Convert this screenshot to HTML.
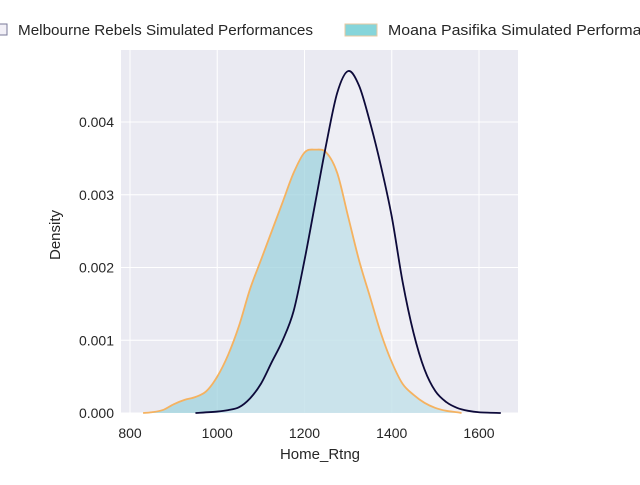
<!DOCTYPE html>
<html><head><meta charset="utf-8"><style>
body{margin:0;background:#fff;width:640px;height:480px;overflow:hidden;font-family:"Liberation Sans",sans-serif}
</style></head><body>
<svg width="640" height="480" xmlns="http://www.w3.org/2000/svg" font-family="Liberation Sans, sans-serif">
<rect x="121" y="50" width="397" height="363" fill="#eaeaf2"/>
<g id="grid"></g>
<g id="series"></g>
<g id="ticks" font-size="14" fill="#262626"></g>
<text x="320" y="459" text-anchor="middle" font-size="15" fill="#262626">Home_Rtng</text>
<text transform="translate(60,235) rotate(-90)" text-anchor="middle" font-size="15" fill="#262626">Density</text>
<g font-size="15" fill="#262626">
<g><rect x="-4" y="24" width="11" height="11" fill="#f2f0f7" stroke="#7a7a9a" stroke-width="1"/><text x="18" y="35" textLength="295" lengthAdjust="spacingAndGlyphs">Melbourne Rebels Simulated Performances</text></g>
<g><rect x="345" y="24" width="32" height="12" fill="#86d5da" stroke="#e8c9a0" stroke-width="1"/><text x="388" y="35" textLength="287" lengthAdjust="spacingAndGlyphs">Moana Pasifika Simulated Performances</text></g>
</g>
</svg>
<script>
const xTicks=[800,1000,1200,1400,1600];
const yTicks=[0,0.001,0.002,0.003,0.004];
const yTickLabels=["0.000","0.001","0.002","0.003","0.004"];
const moanaX=[830,850,875,900,925,950,975,1000,1025,1050,1075,1100,1125,1150,1175,1200,1225,1250,1275,1300,1325,1350,1375,1400,1425,1450,1475,1500,1525,1550,1560];
const moanaY=[0,0.00001,0.00004,0.00012,0.00018,0.00022,0.0003,0.0005,0.0008,0.0012,0.0017,0.0021,0.0025,0.0029,0.0033,0.00358,0.00362,0.00358,0.0033,0.0027,0.0021,0.0016,0.0011,0.0007,0.0004,0.00025,0.00014,0.00007,0.00003,0.00001,0];
const melX=[950,1000,1025,1050,1075,1100,1125,1150,1175,1200,1225,1250,1275,1300,1325,1350,1375,1400,1425,1450,1475,1500,1525,1550,1575,1600,1650];
const melY=[0,0.00002,0.00004,0.00008,0.0002,0.0004,0.0007,0.001,0.0014,0.0021,0.0029,0.0037,0.0044,0.0047,0.0045,0.004,0.0034,0.0027,0.0018,0.0011,0.0006,0.0003,0.00015,0.00007,0.00003,0.00001,0];
const NS="http://www.w3.org/2000/svg";
const sx=v=>130+(v-800)*(479-130)/800;
const sy=v=>413-v*72750;
function el(t,a,p){const e=document.createElementNS(NS,t);for(const k in a)e.setAttribute(k,a[k]);p.appendChild(e);return e;}
const grid=document.getElementById('grid'),ticks=document.getElementById('ticks'),series=document.getElementById('series');
xTicks.forEach(v=>{
const l=el('line',{x1:sx(v),x2:sx(v),y1:50,y2:413,stroke:'#fff','stroke-width':1},grid);


const t=el('text',{x:sx(v),y:438,'text-anchor':'middle'},ticks);t.textContent=v;


});
yTicks.forEach((v,i)=>{
const l=el('line',{x1:121,x2:518,y1:sy(v),y2:sy(v),stroke:'#fff','stroke-width':1},grid);


const t=el('text',{x:114,y:sy(v)+5,'text-anchor':'end'},ticks);t.textContent=yTickLabels[i];


});
function smooth(xs,ys){
const p=xs.map((x,i)=>[sx(x),sy(ys[i])]);let d='M'+p[0][0]+','+p[0][1];
for(let i=0;i<p.length-1;i++){const p0=p[i-1]||p[i],p1=p[i],p2=p[i+1],p3=p[i+2]||p2;
d+=' C'+(p1[0]+(p2[0]-p0[0])/6)+','+(p1[1]+(p2[1]-p0[1])/6)+' '+(p2[0]-(p3[0]-p1[0])/6)+','+(p2[1]-(p3[1]-p1[1])/6)+' '+p2[0]+','+p2[1];}
return d;}
function area(xs,ys,fill,fo,name){
const d=smooth(xs,ys);
const f=el('path',{d:d+' L'+sx(xs[xs.length-1])+','+sy(0)+' L'+sx(xs[0])+','+sy(0)+'Z',fill:fill,'fill-opacity':fo},series);


}
function line(xs,ys,stroke,name){
const l=el('path',{d:smooth(xs,ys),fill:'none',stroke:stroke,'stroke-width':1.8},series);


}
area(moanaX,moanaY,'#9fd3de',0.75,'moana-density');
area(melX,melY,'#f6f5fa',0.35,'melbourne-density');
line(moanaX,moanaY,'#f5b260','moana-density');
line(melX,melY,'#0d0a3a','melbourne-density');
</script>
</body></html>
